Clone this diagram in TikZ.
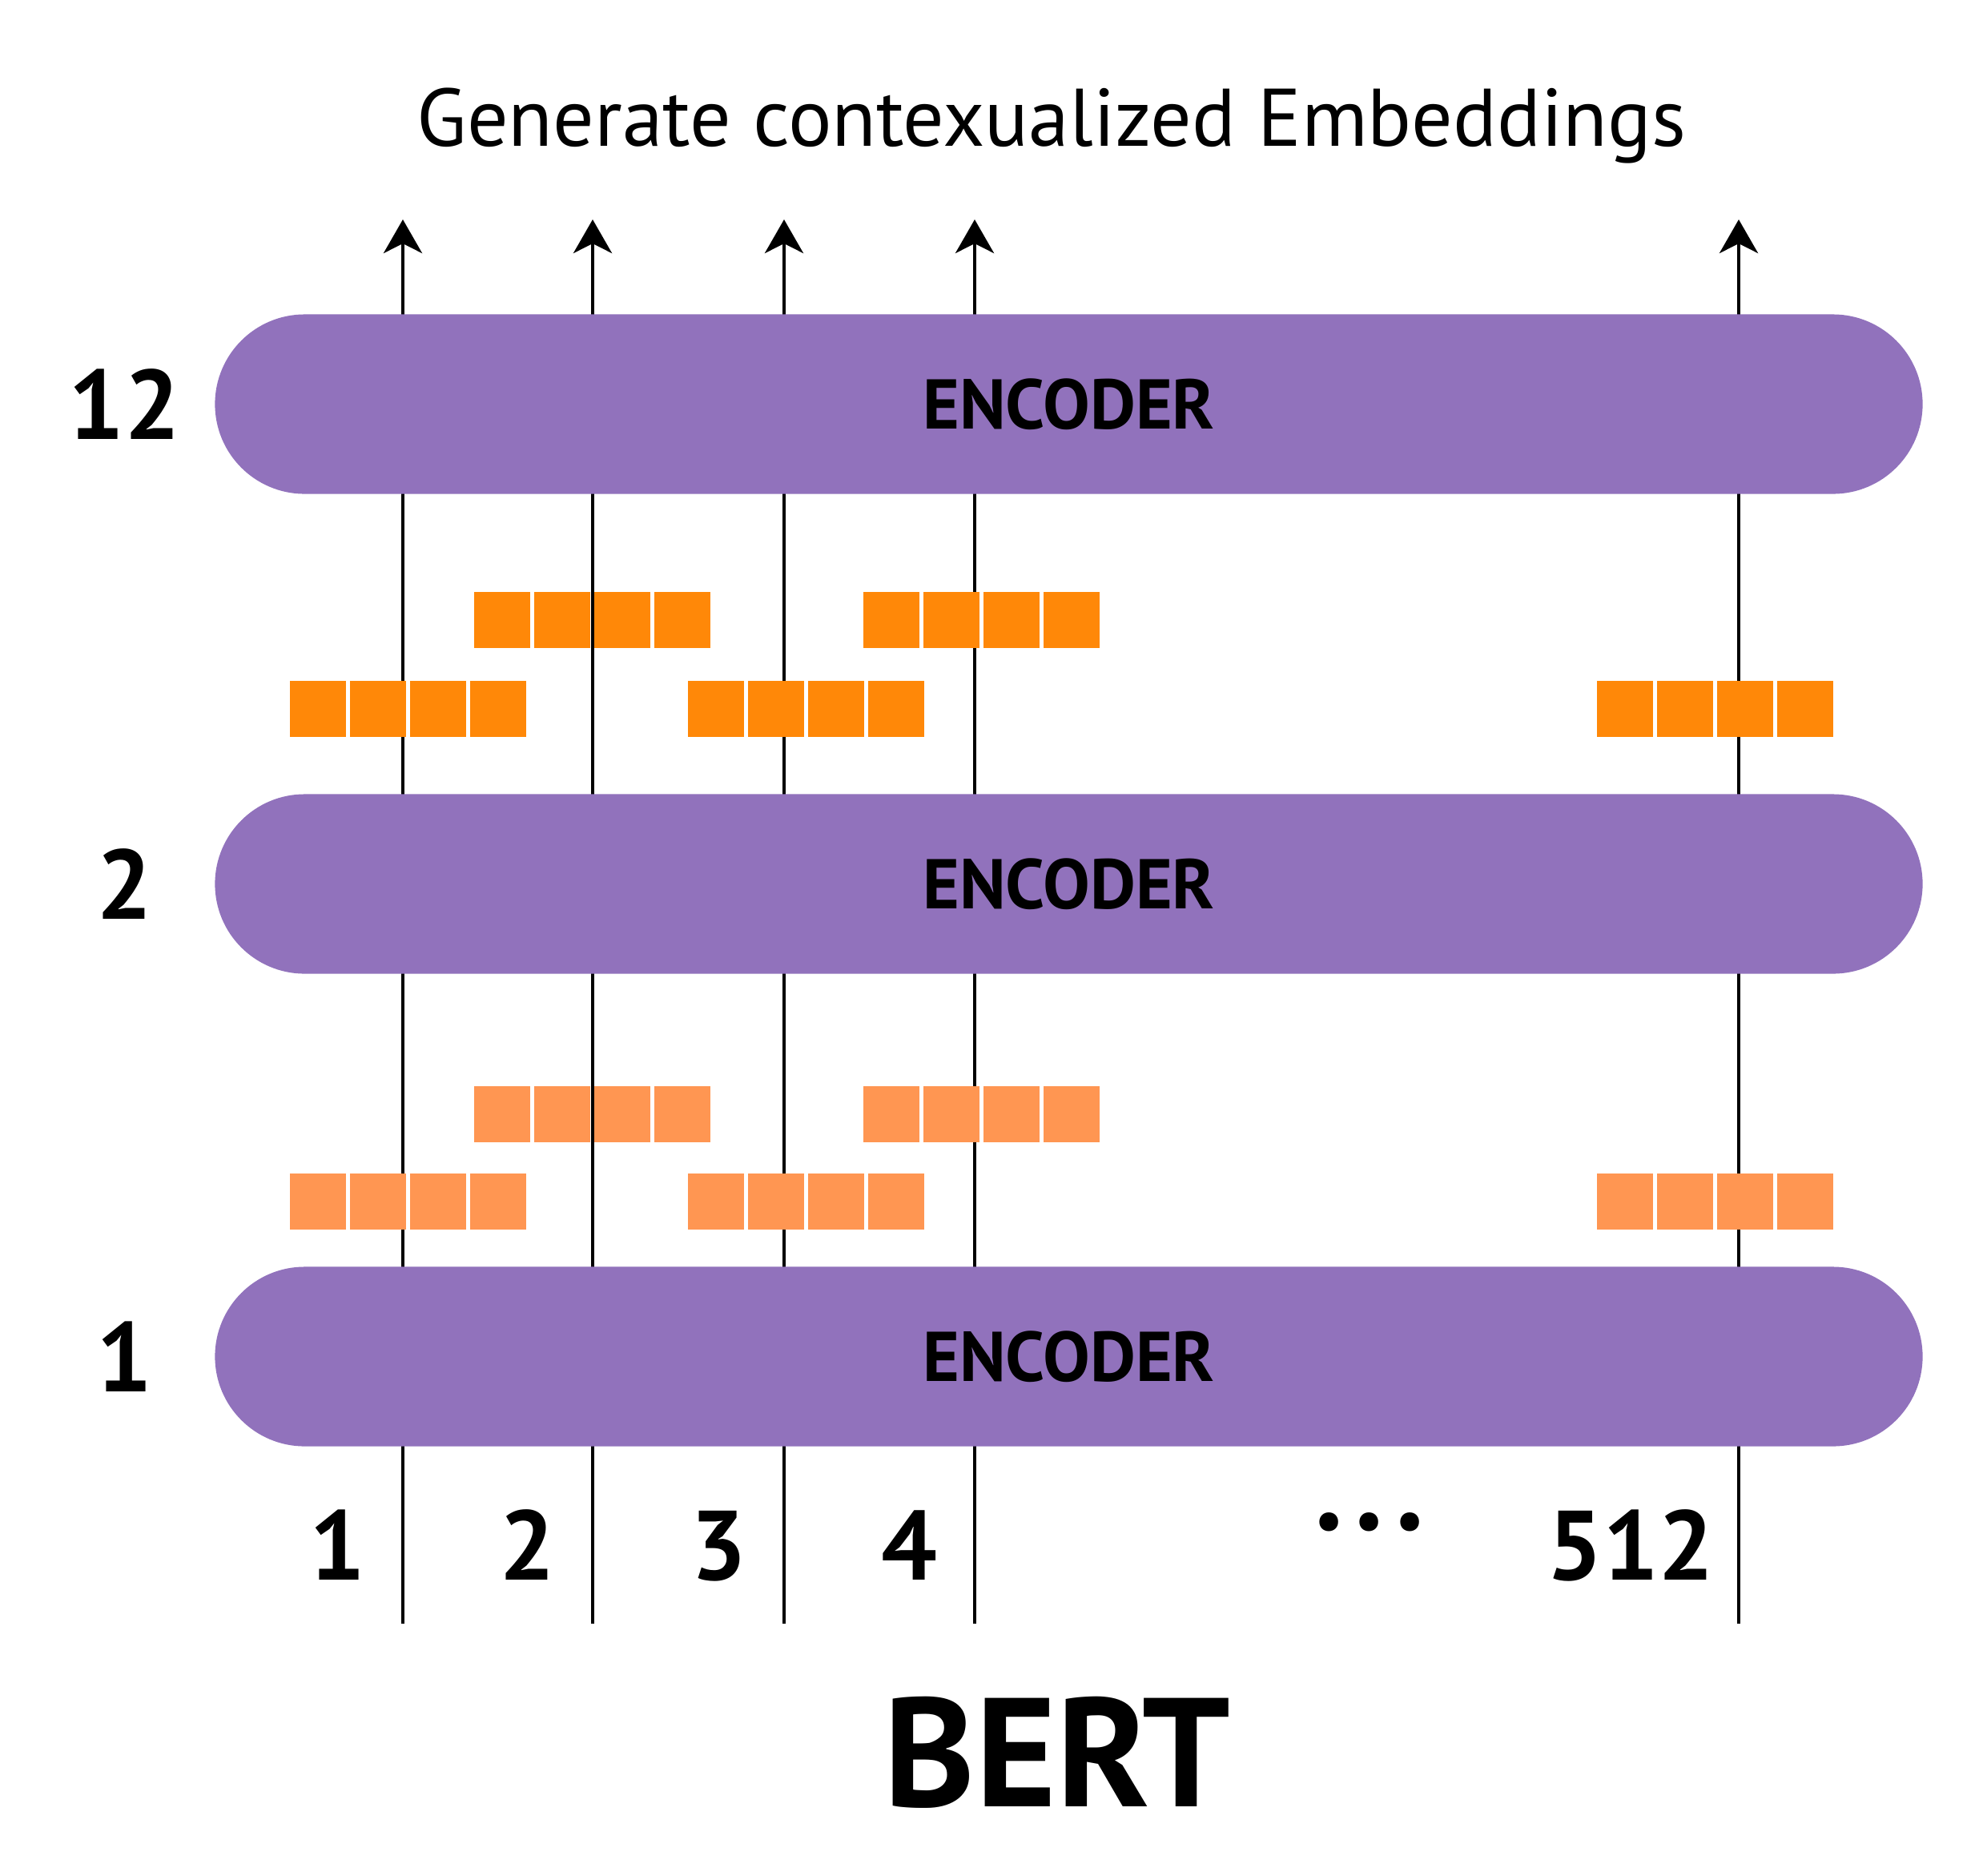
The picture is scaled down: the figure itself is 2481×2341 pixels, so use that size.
\documentclass[tikz,border=0pt]{standalone}
\usepackage{fontspec}
\setmainfont{PT Sans}
\usetikzlibrary{arrows.meta}

\definecolor{encpurple}{RGB}{145,114,188}
\definecolor{darkorange}{RGB}{255,136,8}
\definecolor{lightorange}{RGB}{255,150,82}

\tikzset{
  encoder/.style={rectangle, rounded corners=1.12cm, fill=encpurple,
    minimum width=21.31cm, minimum height=2.24cm, inner sep=0pt,
    font=\fontsize{25}{30}\selectfont\bfseries},
  flow/.style={line width=0.04cm, -{Stealth[length=0.42cm,width=0.48cm,inset=0.12cm]}},
  embbox/.style={rectangle, minimum size=0.7cm, inner sep=0pt},
  layernum/.style={font=\fontsize{35}{40}\selectfont\bfseries},
  tokennum/.style={anchor=base, font=\fontsize{35}{40}\selectfont\bfseries}
}

\begin{document}
\begin{tikzpicture}[x=0.01cm, y=-0.01cm]
    \useasboundingbox (0,0) rectangle (2481,2341);

    % Title
    \node[anchor=base, font=\fontsize{29}{34}\selectfont] (title) at (1313,182) {Generate contexualized Embeddings};

    % Token lines, from the input positions up to the outputs
    \foreach \name/\xx in {a/503, b/740, c/979, d/1217, e/2171} {
        \coordinate (in\name) at (\xx,2027);
        \coordinate (out\name) at (\xx,274);
        \draw[flow] (in\name) -- (out\name);
    }

    % Encoder stack
    \node[encoder] (enc12) at (1334.5,504.5) {ENCODER};
    \node[encoder] (enc2) at (1334.5,1103.5) {ENCODER};
    \node[encoder] (enc1) at (1334.5,1693.5) {ENCODER};

    % Layer numbers
    \node[layernum] (lay12) at (155,504.5) {12};
    \node[layernum] (lay2) at (155,1103.5) {2};
    \node[layernum] (lay1) at (155,1693.5) {1};

    % Embeddings between encoders 2 and 12
    \foreach \gx in {592,1078}
        \foreach \i in {0,...,3}
            \node[embbox, fill=darkorange] (up\gx-\i) at (\gx+35+75*\i,774) {};
    \foreach \gx in {362,859,1994}
        \foreach \i in {0,...,3}
            \node[embbox, fill=darkorange] (lo\gx-\i) at (\gx+35+75*\i,884.5) {};

    % Embeddings between encoders 1 and 2
    \foreach \gx in {592,1078}
        \foreach \i in {0,...,3}
            \node[embbox, fill=lightorange] (upb\gx-\i) at (\gx+35+75*\i,1391) {};
    \foreach \gx in {362,859,1994}
        \foreach \i in {0,...,3}
            \node[embbox, fill=lightorange] (lob\gx-\i) at (\gx+35+75*\i,1500) {};

    % Token positions
    \node[tokennum] (tok1) at (421,1972) {1};
    \node[tokennum] (tok2) at (658,1972) {2};
    \node[tokennum] (tok3) at (897,1972) {3};
    \node[tokennum] (tok4) at (1135,1972) {4};
    \node[font=\fontsize{24}{28}\selectfont] (dots) at (1710,1907) {\textbullet\hspace{0.12cm}\textbullet\hspace{0.12cm}\textbullet};
    \node[tokennum] (tok512) at (2036,1972) {512};

    % Model name
    \node[anchor=base, font=\fontsize{55}{60}\selectfont\bfseries] (bert) at (1320,2255) {BERT};
\end{tikzpicture}
\end{document}
